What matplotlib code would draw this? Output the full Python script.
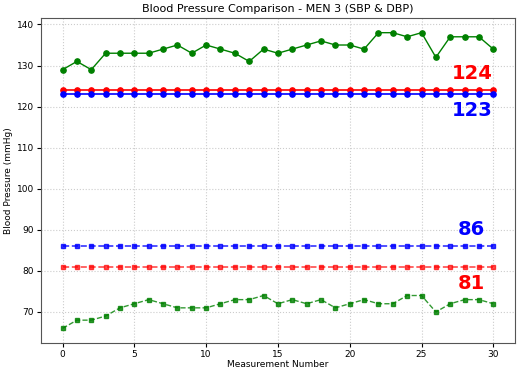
import numpy as np
import matplotlib
matplotlib.use('Agg')
import matplotlib.pyplot as plt

# measurements 0..30
Measurement = list(range(31))

SBP_Men = [129, 131, 129, 133, 133, 133, 133, 134, 135, 133, 135, 134, 133, 131, 134, 133,
           134, 135, 136, 135, 135, 134, 138, 138, 137, 138, 132, 137, 137, 137, 134]
DBP_Men = [66, 68, 68, 69, 71, 72, 73, 72, 71, 71, 71, 72, 73, 73, 74, 72,
           73, 72, 73, 71, 72, 73, 72, 72, 74, 74, 70, 72, 73, 73, 72]
SBP_Red = 124
SBP_Blue = 123
DBP_Blue = 86
DBP_Red = 81

def main():
    n = len(Measurement)
    fig = plt.figure(figsize=(5.19, 3.73), dpi=100)
    ax = fig.add_axes([0.079, 0.080, 0.913, 0.872])

    # systolic: solid lines with circles
    ax.plot(Measurement, SBP_Men, color='green', marker='o', markersize=3.8,
            linewidth=1.0, linestyle='-')
    ax.plot(Measurement, [SBP_Red] * n, color='red', marker='o', markersize=3.8,
            linewidth=1.2, linestyle='-')
    ax.plot(Measurement, [SBP_Blue] * n, color='blue', marker='o', markersize=3.8,
            linewidth=1.2, linestyle='-')

    # diastolic: dashed lines with squares
    ax.plot(Measurement, DBP_Men, color='green', marker='s', markersize=3.2,
            linewidth=1.0, linestyle='--', alpha=0.8)
    ax.plot(Measurement, [DBP_Blue] * n, color='blue', marker='s', markersize=3.2,
            linewidth=1.2, linestyle='--', alpha=0.8)
    ax.plot(Measurement, [DBP_Red] * n, color='red', marker='s', markersize=3.2,
            linewidth=1.2, linestyle='--', alpha=0.7)

    # value labels
    ax.text(28.5, SBP_Red + 4, str(SBP_Red), color='red', fontsize=14,
            fontweight='bold', ha='center', va='center')
    ax.text(28.5, SBP_Blue - 4, str(SBP_Blue), color='blue', fontsize=14,
            fontweight='bold', ha='center', va='center')
    ax.text(28.5, DBP_Blue + 4, str(DBP_Blue), color='blue', fontsize=14,
            fontweight='bold', ha='center', va='center')
    ax.text(28.5, DBP_Red - 4, str(DBP_Red), color='red', fontsize=14,
            fontweight='bold', ha='center', va='center')

    # cosmetics
    ax.set_title('Blood Pressure Comparison - MEN 3 (SBP & DBP)', fontsize=8, pad=4)
    ax.set_xlabel('Measurement Number', fontsize=6.5, labelpad=1)
    ax.set_ylabel('Blood Pressure (mmHg)', fontsize=6.5, labelpad=3)
    ax.tick_params(labelsize=6.5, length=3, pad=2)
    ax.grid(True, linestyle=':', color='#cccccc', linewidth=0.8)
    for s in ax.spines.values():
        s.set_color('#555555')

    fig.savefig('out.png', dpi=100)

main()
